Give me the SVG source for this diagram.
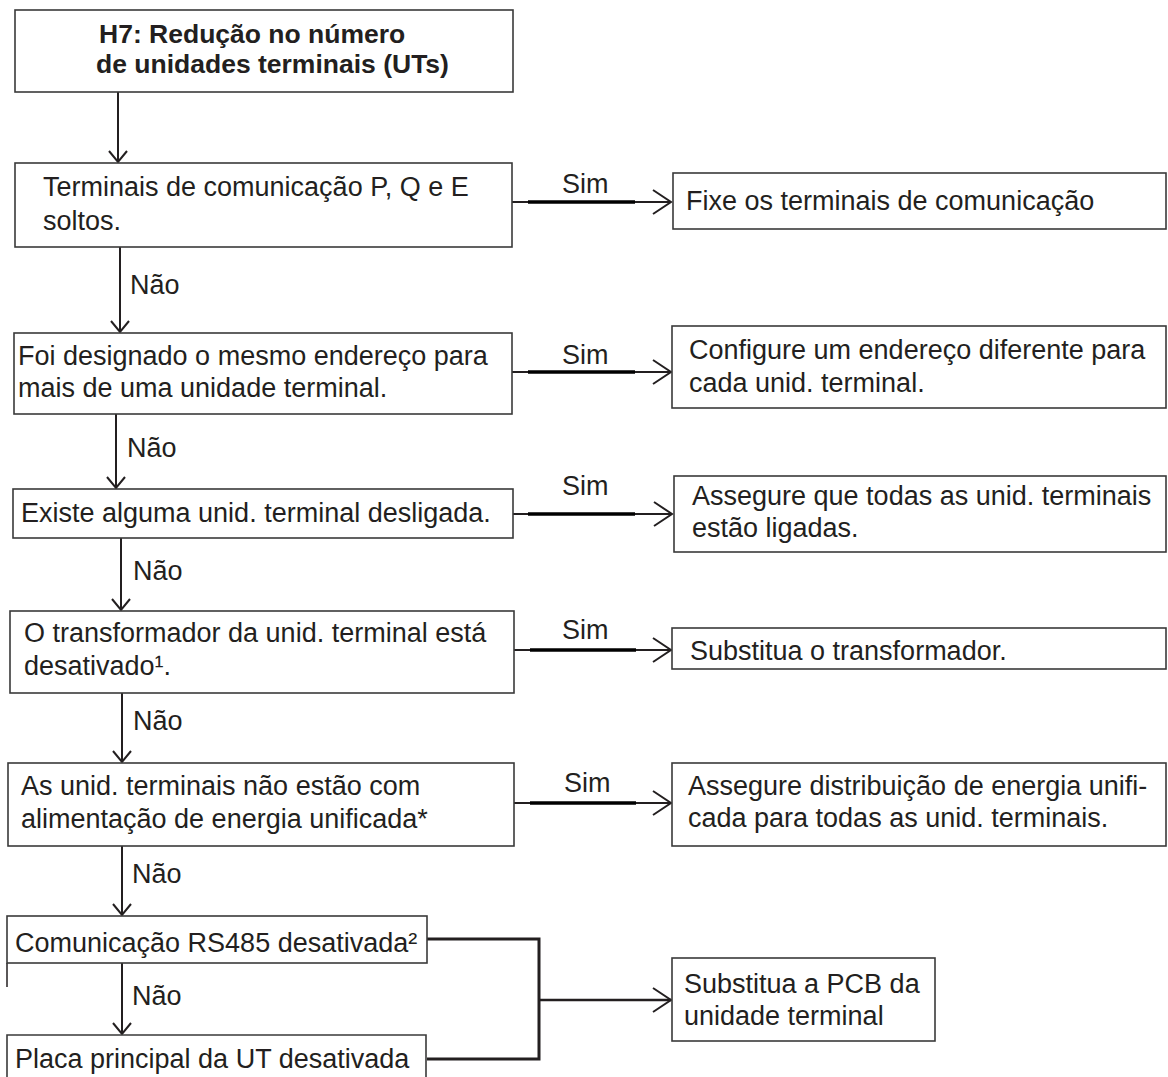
<svg xmlns="http://www.w3.org/2000/svg" width="1168" height="1077" viewBox="0 0 1168 1077">
<defs>
<style>
.box{fill:#fff;stroke:#3a3a3a;stroke-width:1.6}
.t{font-family:"Liberation Sans",Arial,Helvetica,sans-serif;font-size:27px;fill:#231f20}
.tb{font-family:"Liberation Sans",Arial,Helvetica,sans-serif;font-size:26.5px;font-weight:bold;fill:#231f20}
.ln{fill:none;stroke:#231f20;stroke-width:2}
.thick{fill:none;stroke:#000;stroke-width:3.5}
.ah{fill:none;stroke:#231f20;stroke-width:2;stroke-linejoin:miter}
</style>
</defs>
<rect width="1168" height="1077" fill="#fff"/>

<g id="connectors">
  <line class="ln" x1="118" y1="92" x2="118" y2="162"/>
  <polyline class="ah" points="109,151 118,162 127,151"/>
  <line class="ln" x1="120" y1="247" x2="120" y2="332"/>
  <polyline class="ah" points="111,321 120,332 129,321"/>
  <line class="ln" x1="116" y1="414" x2="116" y2="488"/>
  <polyline class="ah" points="107,477 116,488 125,477"/>
  <line class="ln" x1="121" y1="538" x2="121" y2="610"/>
  <polyline class="ah" points="112,599 121,610 130,599"/>
  <line class="ln" x1="122" y1="693" x2="122" y2="762"/>
  <polyline class="ah" points="113,751 122,762 131,751"/>
  <line class="ln" x1="122" y1="846" x2="122" y2="915"/>
  <polyline class="ah" points="113,904 122,915 131,904"/>
  <line class="ln" x1="122" y1="963" x2="122" y2="1034"/>
  <polyline class="ah" points="113,1023 122,1034 131,1023"/>

  <line class="ln" x1="512" y1="202" x2="671" y2="202"/>
  <line class="thick" x1="528" y1="202" x2="635" y2="202"/>
  <polyline class="ah" points="653,190 671,202 653,214"/>

  <line class="ln" x1="512" y1="372" x2="671" y2="372"/>
  <line class="thick" x1="528" y1="372" x2="635" y2="372"/>
  <polyline class="ah" points="653,360 671,372 653,384"/>

  <line class="ln" x1="513" y1="514" x2="672" y2="514"/>
  <line class="thick" x1="528" y1="514" x2="635" y2="514"/>
  <polyline class="ah" points="654,502 672,514 654,526"/>

  <line class="ln" x1="514" y1="650" x2="671" y2="650"/>
  <line class="thick" x1="530" y1="650" x2="636" y2="650"/>
  <polyline class="ah" points="653,638 671,650 653,662"/>

  <line class="ln" x1="514" y1="803" x2="671" y2="803"/>
  <line class="thick" x1="530" y1="803" x2="636" y2="803"/>
  <polyline class="ah" points="653,791 671,803 653,815"/>

  <polyline class="ln" style="stroke-width:3" points="427,939 539,939 539,1059 427,1059"/>
  <line class="ln" style="stroke-width:2.5" x1="539" y1="1000" x2="671" y2="1000"/>
  <polyline class="ah" points="653,988 671,1000 653,1012"/>

  <line class="ln" style="stroke-width:1.5" x1="7" y1="963" x2="7" y2="987"/>

  <text class="t" x="562" y="193">Sim</text>
  <text class="t" x="562" y="364">Sim</text>
  <text class="t" x="562" y="495">Sim</text>
  <text class="t" x="562" y="639">Sim</text>
  <text class="t" x="564" y="792">Sim</text>
  <text class="t" x="130" y="294">Não</text>
  <text class="t" x="127" y="457">Não</text>
  <text class="t" x="133" y="580">Não</text>
  <text class="t" x="133" y="730">Não</text>
  <text class="t" x="132" y="883">Não</text>
  <text class="t" x="132" y="1005">Não</text>
</g>

<g id="start">
  <rect class="box" x="15" y="10" width="498" height="82"/>
  <text class="tb" x="99" y="43">H7: Redução no número</text>
  <text class="tb" x="96" y="73">de unidades terminais (UTs)</text>
</g>

<g id="q1">
  <rect class="box" x="15" y="163" width="497" height="84"/>
  <text class="t" x="43" y="196">Terminais de comunicação P, Q e E</text>
  <text class="t" x="43" y="230">soltos.</text>
</g>
<g id="a1">
  <rect class="box" x="673" y="173" width="493" height="56"/>
  <text class="t" x="686" y="210">Fixe os terminais de comunicação</text>
</g>

<g id="q2">
  <rect class="box" x="14" y="333" width="498" height="81"/>
  <text class="t" x="18" y="365">Foi designado o mesmo endereço para</text>
  <text class="t" x="18" y="397">mais de uma unidade terminal.</text>
</g>
<g id="a2">
  <rect class="box" x="672" y="326" width="494" height="82"/>
  <text class="t" x="689" y="359">Configure um endereço diferente para</text>
  <text class="t" x="689" y="392">cada unid. terminal.</text>
</g>

<g id="q3">
  <rect class="box" x="13" y="489" width="500" height="49"/>
  <text class="t" x="21" y="522">Existe alguma unid. terminal desligada.</text>
</g>
<g id="a3">
  <rect class="box" x="674" y="476" width="492" height="76"/>
  <text class="t" x="692" y="505">Assegure que todas as unid. terminais</text>
  <text class="t" x="692" y="537">estão ligadas.</text>
</g>

<g id="q4">
  <rect class="box" x="10" y="611" width="504" height="82"/>
  <text class="t" x="24" y="642">O transformador da unid. terminal está</text>
  <text class="t" x="24" y="675">desativado¹.</text>
</g>
<g id="a4">
  <rect class="box" x="672" y="628" width="494" height="41"/>
  <text class="t" x="690" y="660">Substitua o transformador.</text>
</g>

<g id="q5">
  <rect class="box" x="8" y="763" width="506" height="83"/>
  <text class="t" x="21" y="795">As unid. terminais não estão com</text>
  <text class="t" x="21" y="828">alimentação de energia unificada*</text>
</g>
<g id="a5">
  <rect class="box" x="672" y="763" width="494" height="83"/>
  <text class="t" x="688" y="795">Assegure distribuição de energia unifi-</text>
  <text class="t" x="688" y="827">cada para todas as unid. terminais.</text>
</g>

<g id="q6">
  <rect class="box" x="7" y="916" width="420" height="47"/>
  <text class="t" x="15" y="952">Comunicação RS485 desativada²</text>
</g>

<g id="q7">
  <path class="box" d="M7,1080 V1035 H426 V1080"/>
  <text class="t" x="15" y="1068">Placa principal da UT desativada</text>
</g>

<g id="a6">
  <rect class="box" x="672" y="958" width="263" height="83"/>
  <text class="t" x="684" y="993">Substitua a PCB da</text>
  <text class="t" x="684" y="1025">unidade terminal</text>
</g>
</svg>
